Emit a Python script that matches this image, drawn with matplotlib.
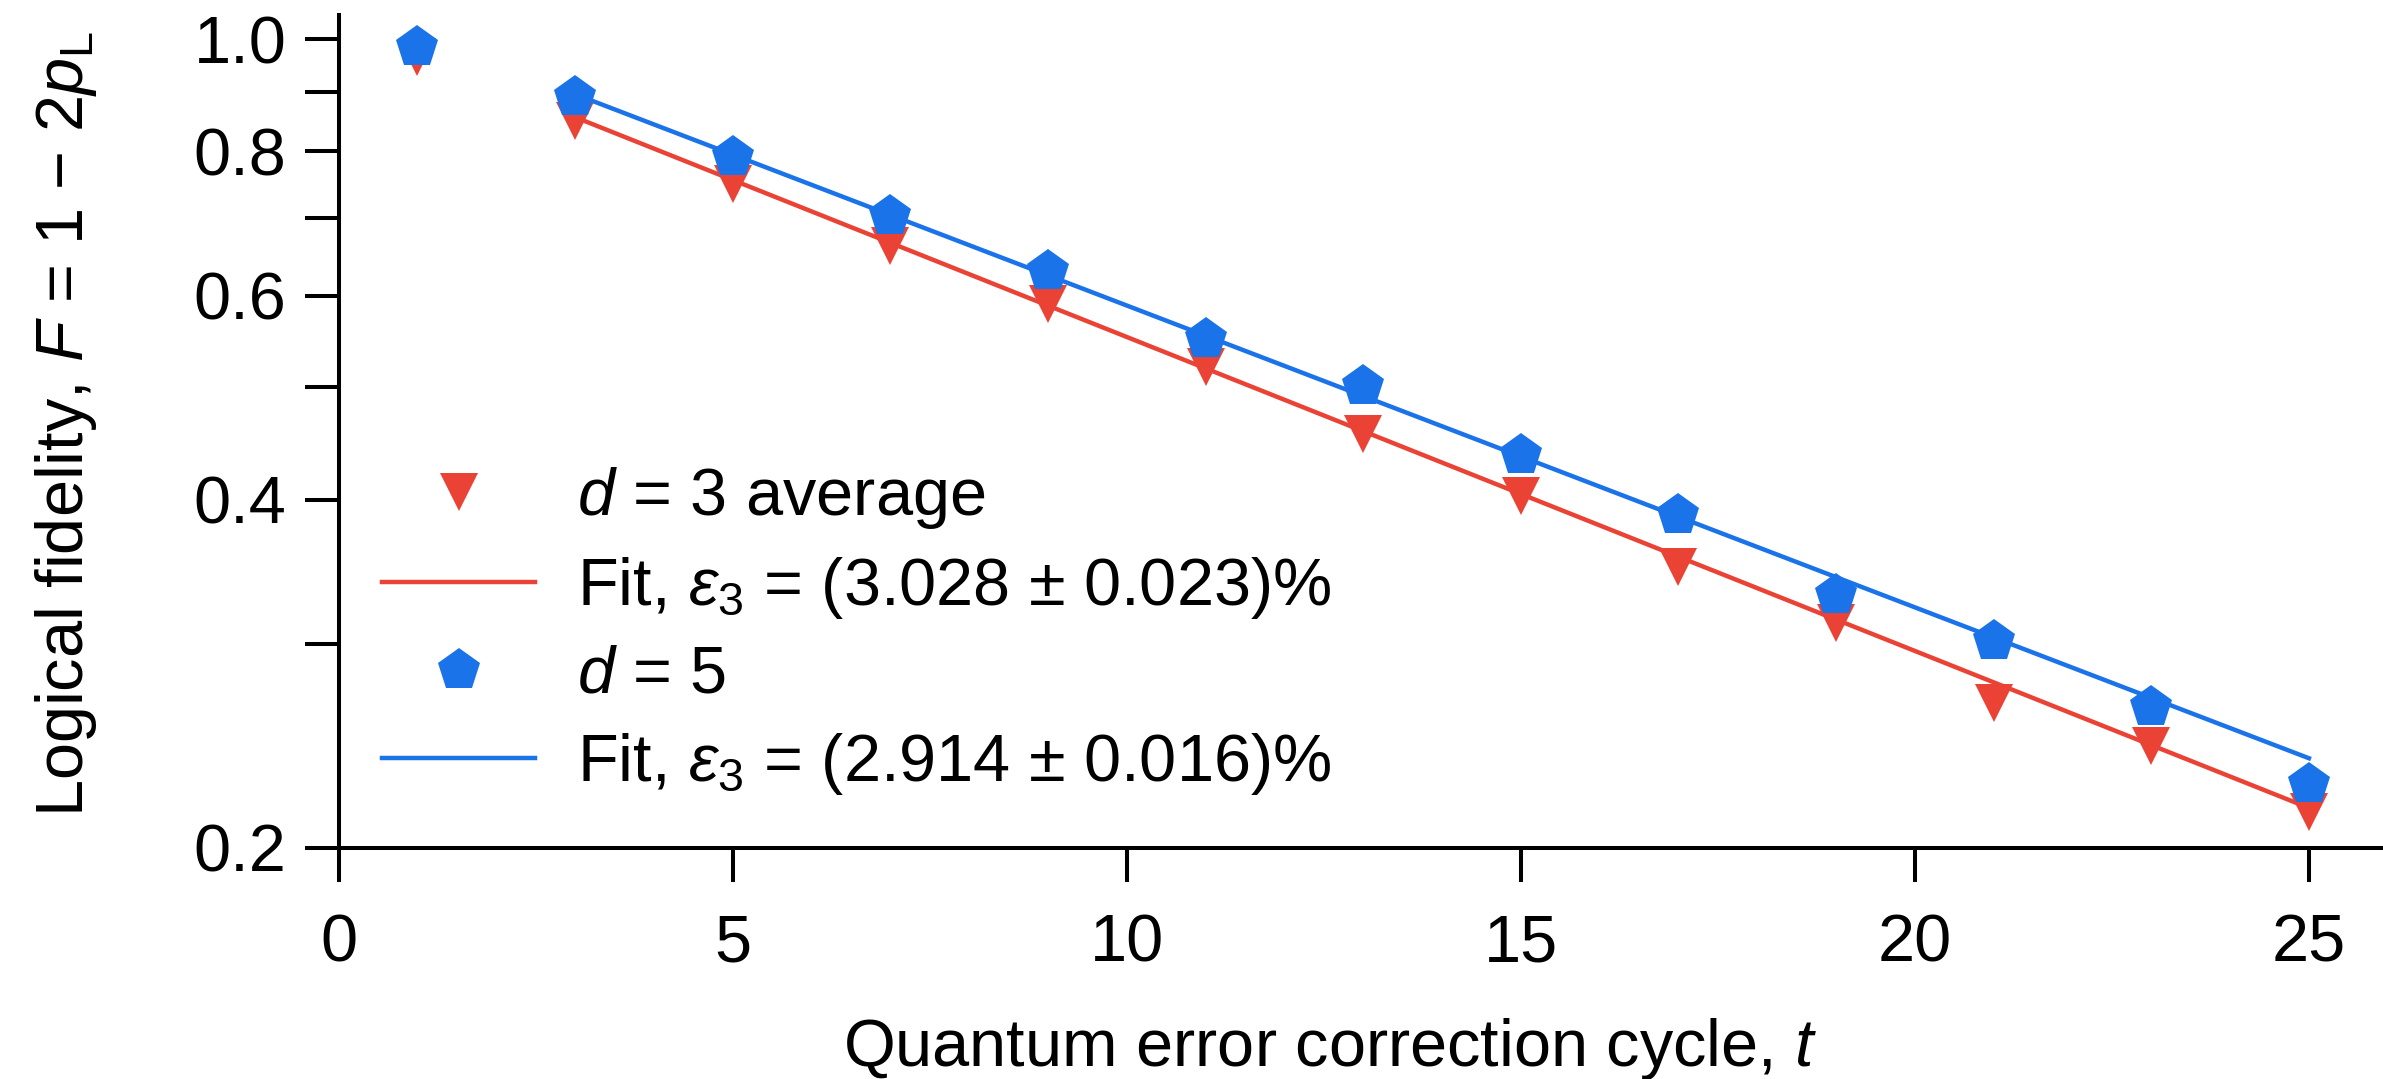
import numpy as np
import matplotlib
matplotlib.use("Agg")
import matplotlib.pyplot as plt
from matplotlib.ticker import FixedLocator, NullFormatter

plt.rcParams['font.family'] = ['Liberation Sans', 'DejaVu Sans']
plt.rcParams['mathtext.fontset'] = 'custom'
plt.rcParams['mathtext.rm'] = 'Liberation Sans'
plt.rcParams['mathtext.it'] = 'Liberation Sans:italic'
plt.rcParams['mathtext.bf'] = 'Liberation Sans:bold'

# data
t = [1, 3, 5, 7, 9, 11, 13, 15, 17, 19, 21, 23, 25]
F_d3 = [0.964, 0.849, 0.749, 0.663, 0.590, 0.521, 0.456, 0.403, 0.350, 0.313, 0.267, 0.245, 0.215]
F_d5 = [0.984, 0.891, 0.791, 0.703, 0.630, 0.551, 0.501, 0.437, 0.388, 0.331, 0.302, 0.265, 0.227]

# fit lines, end points
fit_t = [3, 25]
fit_d3 = [0.856, 0.2166]
fit_d5 = [0.896, 0.2391]

lab_d3 = "$d$ = 3 average"
lab_fit3 = "Fit, $\\varepsilon_3$ = (3.028 ± 0.023)%"
lab_d5 = "$d$ = 5"
lab_fit5 = "Fit, $\\varepsilon_3$ = (2.914 ± 0.016)%"

red = "#EA4335"
blue = "#1A73E8"
fs = 48

fig = plt.figure(figsize=(23.83, 10.79), dpi=100)
ax = fig.add_axes([0.1421, 0.2141, 0.8579, 0.772])

ax.plot(t, F_d3, "v", color=red, ms=28, mew=0, label=lab_d3, clip_on=False, zorder=3)
ax.plot(fit_t, fit_d3, "-", color=red, lw=3.2, label=lab_fit3, zorder=3)
ax.plot(t, F_d5, "p", color=blue, ms=31.7, mew=0, label=lab_d5, clip_on=False, zorder=4)
ax.plot(fit_t, fit_d5, "-", color=blue, lw=3.2, label=lab_fit5, zorder=4)

ax.set_yscale("log")
ax.set_xlim(0, 25.94)
ax.set_ylim(0.2, 1.049)
ax.set_yticks([0.2, 0.4, 0.6, 0.8, 1.0])
ax.set_yticklabels(["0.2", "0.4", "0.6", "0.8", "1.0"])
ax.yaxis.set_minor_locator(FixedLocator([0.3, 0.5, 0.7, 0.9]))
ax.yaxis.set_minor_formatter(NullFormatter())
ax.set_xticks([0, 5, 10, 15, 20, 25])

for s in ["top", "right"]:
    ax.spines[s].set_visible(False)
for s in ["left", "bottom"]:
    ax.spines[s].set_linewidth(2.9)

ax.tick_params(which="both", direction="out", length=24.5, width=2.9, labelsize=fs)
ax.tick_params(axis="y", which="both", pad=13)
ax.tick_params(axis="x", pad=23)

ax.set_xlabel("Quantum error correction cycle, $t$", fontsize=fs)
ax.set_ylabel("Logical fidelity, $F$ = 1 \u2212 2$p_\\mathrm{L}$", fontsize=fs)
ax.xaxis.set_label_coords(0.485, -0.202)
ax.yaxis.set_label_coords(-0.117, 0.509)

ax.legend(loc="center left", bbox_to_anchor=(0.0212, 0.2605), frameon=False,
          fontsize=fs, handlelength=2.3, handletextpad=0.62, labelspacing=0.36,
          borderpad=0, borderaxespad=0)

fig.savefig("out.png", dpi=100)
